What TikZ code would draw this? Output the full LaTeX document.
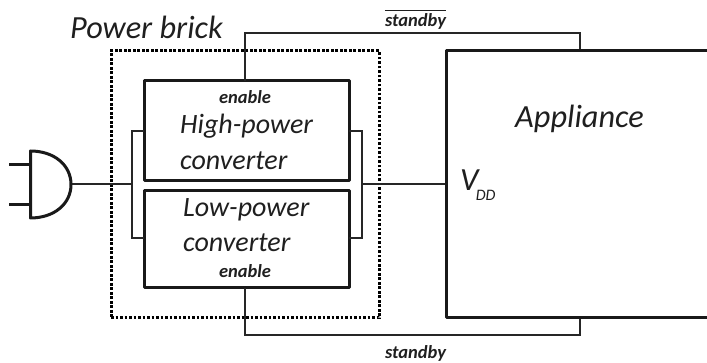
\documentclass[tikz,border=0pt]{standalone}
\usepackage{fontspec}
\setmainfont{Carlito}
\tikzset{
  thickbox/.style={draw=black!90,line width=3pt,line join=round,minimum width=205pt,inner sep=0pt,outer sep=0pt,anchor=north west},
  wire/.style={draw=black!85,line width=2pt,line join=miter},
  heavy/.style={draw=black!90,line width=3pt,line join=round},
  brickbox/.style={draw=black,line width=3pt,dash pattern=on 2.6pt off 1.9pt,inner sep=0pt,outer sep=0pt,anchor=north west,minimum width=268pt,minimum height=267pt},
  big/.style={font=\itshape\fontsize{28}{32}\selectfont,text=black!88,inner sep=0pt},
  bigger/.style={font=\itshape\fontsize{32.3}{36}\selectfont,text=black!88,inner sep=0pt},
  small/.style={font=\itshape\bfseries\fontsize{18.5}{20}\selectfont,text=black!88,inner sep=0pt}
}
\begin{document}
\begin{tikzpicture}[x=1pt,y=-1pt]
\useasboundingbox (0,0) rectangle (707,363);
\node[brickbox] (brick) at (111,51) {};
\node[thickbox,minimum height=100pt] (high) at (144,81) {};
\node[thickbox,minimum height=97pt] (low) at (144,191) {};
\coordinate (apTR) at (707,51);
\coordinate (apTL) at (446,51);
\coordinate (apBL) at (446,318);
\coordinate (apBR) at (707,318);
\coordinate (jl) at (132,184.5);
\coordinate (jr) at (362,184.5);
\coordinate (vdd) at (446,184.5);
\coordinate (topen) at (245,81);
\coordinate (botn) at (245,288);
\coordinate (tapp) at (579.5,51);
\coordinate (bapp) at (579.5,318);
\coordinate (plugT) at (30.5,151);
\coordinate (plugB) at (30.5,218);
\coordinate (plugE) at (71,184.5);
\coordinate (prong1a) at (9,164.3);
\coordinate (prong1b) at (30.5,164.3);
\coordinate (prong2a) at (9,204.3);
\coordinate (prong2b) at (30.5,204.3);
% wires
\draw[wire] (plugE) -- (jl);
\draw[wire] (jr) -- (vdd);
\draw[wire] (high.west |- 0,131) -- (132,131) -- (132,238) -- (low.west |- 0,238);
\draw[wire] (high.east |- 0,131) -- (362,131) -- (362,238) -- (low.east |- 0,238);
\draw[wire] (topen) -- (245,33.5) -- (579.5,33.5) -- (tapp);
\draw[wire] (botn) -- (245,335) -- (579.5,335) -- (bapp);
% appliance
\draw[heavy] (apTR) -- (apTL) -- (apBL) -- (apBR);
% plug
\draw[heavy] (plugE) .. controls (71,165) and (54,151) .. (plugT) -- (plugB) .. controls (54,218) and (71,204) .. (plugE);
\draw[heavy,line width=2.5pt] (prong1a) -- (prong1b);
\draw[heavy,line width=2.5pt] (prong2a) -- (prong2b);
% text
\node[bigger,anchor=base west] (lbrick) at (70,39) {Power brick};
\node[big,anchor=base west] (lhigh1) at (180,134) {High-power};
\node[big,anchor=base west] (lhigh2) at (180,170) {converter};
\node[big,anchor=base west] (llow1) at (183,216.7) {Low-power};
\node[big,anchor=base west] (llow2) at (183,251.7) {converter};
\node[bigger,anchor=base west] (lapp) at (515,128) {Appliance};
\node[bigger,anchor=base west] (lv) at (460,190.7) {V};
\node[anchor=base west,inner sep=0pt,font=\itshape\fontsize{16}{18}\selectfont,text=black!88] (ldd) at (475.7,200.7) {DD};
\node[small,anchor=base] (en1) at (245,103.7) {enable};
\node[small,anchor=base] (en2) at (245,277.3) {enable};
\node[small,anchor=base] (sb1) at (415.5,26.7) {standby};
\draw[draw=black!88,line width=1.3pt] ([yshift=3pt]sb1.north west) -- ([yshift=3pt]sb1.north east);
\node[small,anchor=base] (sb2) at (415.5,358.8) {standby};
\end{tikzpicture}
\end{document}
